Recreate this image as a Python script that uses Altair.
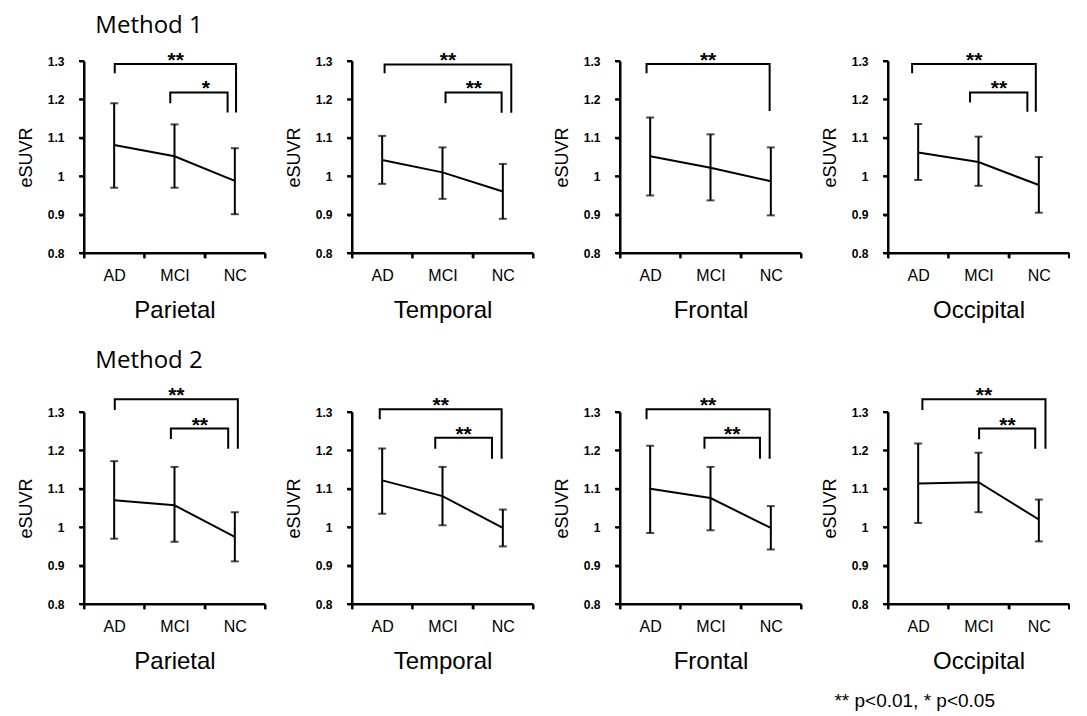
import altair as alt
import pandas as pd

groups = ["AD", "MCI", "NC"]
regions = ["Parietal", "Temporal", "Frontal", "Occipital"]
methods = ["Method 1", "Method 2"]

# Method 1: mean and error-bar ends (AD, MCI, NC)
m1_mean = {"Parietal": [1.081, 1.052, 0.988], "Temporal": [1.042, 1.010, 0.960],
           "Frontal": [1.052, 1.022, 0.987], "Occipital": [1.062, 1.037, 0.977]}
m1_low = {"Parietal": [0.970, 0.970, 0.901], "Temporal": [0.980, 0.941, 0.889],
          "Frontal": [0.950, 0.937, 0.898], "Occipital": [0.990, 0.975, 0.905]}
m1_high = {"Parietal": [1.190, 1.135, 1.073], "Temporal": [1.105, 1.075, 1.032],
           "Frontal": [1.153, 1.109, 1.075], "Occipital": [1.136, 1.103, 1.050]}

# Method 2
m2_mean = {"Parietal": [1.070, 1.057, 0.975], "Temporal": [1.122, 1.081, 0.998],
           "Frontal": [1.100, 1.076, 0.998], "Occipital": [1.114, 1.117, 1.020]}
m2_low = {"Parietal": [0.970, 0.962, 0.911], "Temporal": [1.035, 1.005, 0.950],
          "Frontal": [0.985, 0.992, 0.942], "Occipital": [1.011, 1.039, 0.963]}
m2_high = {"Parietal": [1.172, 1.157, 1.039], "Temporal": [1.205, 1.157, 1.046],
           "Frontal": [1.212, 1.157, 1.055], "Occipital": [1.218, 1.194, 1.072]}

# significance brackets: (x start, x end, bar level, left leg end, right leg end, label, label x)
m1_brackets = {
    "Parietal": [(0.51, 2.52, 1.292, 1.268, 1.166, "**", 1.52), (1.43, 2.38, 1.218, 1.190, 1.166, "*", 2.02)],
    "Temporal": [(0.54, 2.64, 1.291, 1.268, 1.165, "**", 1.59), (1.55, 2.48, 1.218, 1.190, 1.165, "**", 2.02)],
    "Frontal": [(0.44, 2.48, 1.292, 1.268, 1.170, "**", 1.46)],
    "Occipital": [(0.40, 2.45, 1.292, 1.268, 1.168, "**", 1.43), (1.36, 2.31, 1.218, 1.192, 1.168, "**", 1.84)],
}
m2_brackets = {
    "Parietal": [(0.51, 2.55, 1.333, 1.305, 1.204, "**", 1.53), (1.44, 2.39, 1.257, 1.230, 1.204, "**", 1.92)],
    "Temporal": [(0.46, 2.48, 1.307, 1.281, 1.178, "**", 1.47), (1.38, 2.32, 1.233, 1.204, 1.178, "**", 1.85)],
    "Frontal": [(0.44, 2.48, 1.307, 1.281, 1.178, "**", 1.46), (1.40, 2.32, 1.233, 1.204, 1.178, "**", 1.86)],
    "Occipital": [(0.57, 2.61, 1.333, 1.305, 1.204, "**", 1.59), (1.51, 2.44, 1.257, 1.229, 1.204, "**", 1.98)],
}

y_ticks = [0.8, 0.9, 1.0, 1.1, 1.2, 1.3]
band_edges = list(range(len(groups) + 1))
footnote = "**  p<0.01, * p<0.05"

W, H = 181, 192
TICK = 5
Y_SCALE = alt.Scale(domain=[y_ticks[0], y_ticks[-1]], nice=False, zero=False)
XQ_SCALE = alt.Scale(domain=[band_edges[0], band_edges[-1]], nice=False, zero=False)
Y_AXIS = alt.Axis(values=y_ticks, format=".1~f", title="eSUVR", tickCount=6,
                  labelOverlap=False)
LW = 2


def xq(field):
    return alt.X(field, scale=XQ_SCALE, axis=None)


def panel(region, mean, low, high, brackets):
    pts = pd.DataFrame({"group": groups, "mean": mean[region],
                        "lo": low[region], "hi": high[region]})
    xenc = alt.X("group:N", sort=groups,
                 scale=alt.Scale(domain=groups, paddingInner=0, paddingOuter=0),
                 axis=alt.Axis(title=region, tickBand="extent", labelAngle=0))
    base = alt.Chart(pts).encode(x=xenc)
    line = base.mark_line(color="black", strokeWidth=LW).encode(
        y=alt.Y("mean:Q", scale=Y_SCALE, axis=Y_AXIS))
    err = base.mark_rule(color="black", strokeWidth=LW).encode(
        y=alt.Y("lo:Q", scale=Y_SCALE), y2="hi:Q")
    cap_lo = base.mark_tick(color="black", size=8, thickness=2).encode(
        y=alt.Y("lo:Q", scale=Y_SCALE))
    cap_hi = base.mark_tick(color="black", size=8, thickness=2).encode(
        y=alt.Y("hi:Q", scale=Y_SCALE))
    main = alt.layer(line, err, cap_lo, cap_hi)

    # axis lines and ticks, drawn from the scale domains and band edges
    frame = pd.DataFrame({"x0": [band_edges[0]], "x1": [band_edges[-1]],
                          "y0": [y_ticks[0]], "y1": [y_ticks[-1]]})
    y_dom = alt.Chart(frame).mark_rule(color="black", strokeWidth=2).encode(
        x=xq("x0:Q"), y=alt.Y("y0:Q", scale=Y_SCALE), y2="y1:Q")
    x_dom = alt.Chart(frame).mark_rule(color="black", strokeWidth=2).encode(
        x=xq("x0:Q"), x2="x1:Q", y=alt.Y("y0:Q", scale=Y_SCALE))
    y_tk = alt.Chart(pd.DataFrame({"y": y_ticks})).mark_rule(color="black", strokeWidth=2).encode(
        x=alt.value(-TICK), x2=alt.value(0), y=alt.Y("y:Q", scale=Y_SCALE))
    x_tk = alt.Chart(pd.DataFrame({"x": band_edges})).mark_rule(color="black", strokeWidth=2).encode(
        x=xq("x:Q"), y=alt.value(H), y2=alt.value(H + TICK))

    rows, labels = [], []
    for i, (x1, x2, lvl, yl, yr, lab, lx) in enumerate(brackets[region]):
        for k, (xx, yy) in enumerate([(x1, yl), (x1, lvl), (x2, lvl), (x2, yr)]):
            rows.append({"bid": i, "ord": k, "x": xx, "y": yy})
        labels.append({"x": lx, "y": lvl, "label": lab})
    br = alt.Chart(pd.DataFrame(rows)).mark_line(color="black", strokeWidth=LW).encode(
        x=xq("x:Q"), y=alt.Y("y:Q", scale=Y_SCALE),
        detail="bid:N", order="ord:Q")
    txt = alt.Chart(pd.DataFrame(labels)).mark_text(
        fontSize=21, fontWeight="bold", font="Liberation Sans",
        baseline="alphabetic", dy=3, color="black").encode(
        x=xq("x:Q"), y=alt.Y("y:Q", scale=Y_SCALE), text="label:N")
    deco = alt.layer(y_dom, x_dom, y_tk, x_tk, br, txt)
    return alt.layer(main, deco).resolve_scale(x="independent").properties(width=W, height=H)


row_titles = dict(anchor="start", fontSize=24, font="Open Sans", fontWeight="normal",
                  color="black", dx=78, offset=12)

row1 = alt.hconcat(*[panel(r, m1_mean, m1_low, m1_high, m1_brackets) for r in regions],
                   spacing=19, title=alt.TitleParams(methods[0], **row_titles))
row2 = alt.hconcat(*[panel(r, m2_mean, m2_low, m2_high, m2_brackets) for r in regions],
                   spacing=19, title=alt.TitleParams(methods[1], **row_titles))

chart = alt.vconcat(row1, row2, spacing=27,
                    title=alt.TitleParams(footnote, orient="bottom", anchor="end",
                                          fontSize=19, font="Liberation Sans",
                                          fontWeight="normal", color="black",
                                          dx=-75, offset=19)
                    ).properties(
    padding={"left": 9, "top": 6, "right": 0, "bottom": 2}
).configure_view(stroke=None).configure_axis(
    domainColor="black", tickColor="black", domainWidth=2, tickWidth=2, tickSize=TICK,
    grid=False, labelColor="black", titleColor="black",
    labelFont="Liberation Sans", titleFont="Liberation Sans", titleFontWeight="normal"
).configure_axisX(
    labelFontSize=16, labelPadding=9, titleFontSize=24, titlePadding=15
).configure_axisY(
    labelFontSize=12, labelFontWeight="bold", labelPadding=15, titleFontSize=18,
    titlePadding=12, labelOverlap=False
)

chart.save("out.html", embed_options={"renderer": "svg", "actions": False})
